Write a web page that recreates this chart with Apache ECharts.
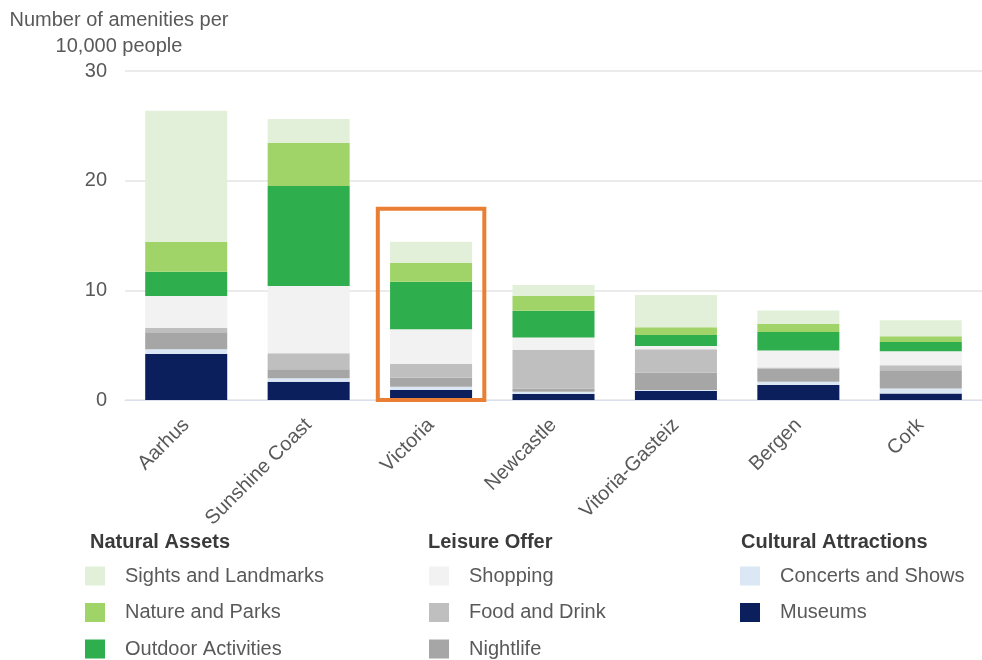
<!DOCTYPE html>
<html>
<head>
<meta charset="utf-8">
<title>Amenities per 10,000 people</title>
<script src="https://cdn.jsdelivr.net/npm/echarts@6/dist/echarts.min.js"></script>
<style>
  html, body { margin: 0; padding: 0; background: #ffffff; }
  #chart { width: 982px; height: 660px; }
</style>
</head>
<body>
<div id="chart"></div>
<script>
// Cities, left to right
const cities = ['Aarhus', 'Sunshine Coast', 'Victoria', 'Newcastle', 'Vitoria-Gasteiz', 'Bergen', 'Cork'];

// Amenities per 10,000 people, by type
const museums   = [4.19, 1.67, 0.91, 0.55, 0.82, 1.37, 0.60];
const concerts  = [0.43, 0.31, 0.30, 0.20, 0.10, 0.30, 0.45];
const nightlife = [1.55, 0.82, 0.82, 0.30, 1.58, 1.20, 1.67];
const foodDrink = [0.39, 1.46, 1.25, 3.50, 2.13, 0.10, 0.45];
const shopping  = [2.92, 6.13, 3.16, 1.16, 0.30, 1.55, 1.28];
const outdoor   = [2.22, 9.12, 4.34, 2.43, 1.00, 1.67, 0.85];
const nature    = [2.73, 3.95, 1.73, 1.37, 0.70, 0.73, 0.52];
const sights    = [11.94, 2.16, 1.91, 0.97, 2.95, 1.24, 1.46];

// Y axis ticks
const yTicks = [0, 10, 20, 30];

// Legend groups
const groupNatural  = ['Sights and Landmarks', 'Nature and Parks', 'Outdoor Activities'];
const groupLeisure  = ['Shopping', 'Food and Drink', 'Nightlife'];
const groupCultural = ['Concerts and Shows', 'Museums'];

// Highlighted city and the top of its frame (in axis units)
const highlightCity = 'Victoria';
const highlightTop = 17.44;

const FONT = "'Liberation Sans', Arial, Helvetica, sans-serif";
const TEXT = '#595959';
const FS = 20;

const colors = {
  'Museums': '#0b1f5c',
  'Concerts and Shows': '#dce7f5',
  'Nightlife': '#a6a6a6',
  'Food and Drink': '#bfbfbf',
  'Shopping': '#f2f2f2',
  'Outdoor Activities': '#2fae4e',
  'Nature and Parks': '#a0d468',
  'Sights and Landmarks': '#e2f0d9'
};

// Stacked from the bottom up
const stackOrder = [
  ['Museums', museums],
  ['Concerts and Shows', concerts],
  ['Nightlife', nightlife],
  ['Food and Drink', foodDrink],
  ['Shopping', shopping],
  ['Outdoor Activities', outdoor],
  ['Nature and Parks', nature],
  ['Sights and Landmarks', sights]
];

const series = stackOrder.map(([name, values]) => ({
  name: name,
  type: 'bar',
  stack: 'total',
  barWidth: '67%',
  itemStyle: { color: colors[name] },
  emphasis: { disabled: true },
  data: values
}));

function legendFor(names, left) {
  return {
    orient: 'vertical',
    left: left,
    top: 566,
    height: 130,
    padding: 0,
    itemWidth: 20,
    itemHeight: 19,
    itemGap: 16.5,
    icon: 'rect',
    selectedMode: false,
    data: names,
    textStyle: { fontFamily: FONT, fontSize: FS, color: TEXT, padding: [0, 0, 0, 15] }
  };
}

const chart = echarts.init(document.getElementById('chart'), null, { renderer: 'canvas' });

const headStyle = { fontFamily: FONT, fontSize: FS, fontWeight: 'bold', color: '#3a3a3a' };

chart.setOption({
  animation: false,
  backgroundColor: '#ffffff',
  textStyle: { fontFamily: FONT },
  title: [
    {
      text: 'Number of amenities per\n10,000 people',
      left: 114,
      top: 2,
      textAlign: 'center',
      textStyle: { fontFamily: FONT, fontSize: FS, fontWeight: 'normal', color: TEXT, lineHeight: 26 }
    },
    { text: 'Natural Assets', left: 85, top: 527, textStyle: headStyle },
    { text: 'Leisure Offer', left: 423, top: 527, textStyle: headStyle },
    { text: 'Cultural Attractions', left: 736, top: 527, textStyle: headStyle }
  ],
  legend: [
    legendFor(groupNatural, 85),
    legendFor(groupLeisure, 429),
    legendFor(groupCultural, 740)
  ],
  grid: { left: 125, right: -9, top: 71, bottom: 260, containLabel: false },
  xAxis: {
    type: 'category',
    data: cities,
    axisLine: { show: true, lineStyle: { color: '#dcdfec', width: 1 } },
    axisTick: { show: false },
    axisLabel: { interval: 0, rotate: 45, margin: 22, fontFamily: FONT, fontSize: FS, color: TEXT }
  },
  yAxis: {
    type: 'value',
    min: yTicks[0],
    max: yTicks[yTicks.length - 1],
    interval: yTicks[1] - yTicks[0],
    axisLine: { show: false },
    axisTick: { show: false },
    splitLine: { lineStyle: { color: '#e4e4e4', width: 1.5 } },
    axisLabel: { margin: 18, fontFamily: FONT, fontSize: FS, color: TEXT }
  },
  series: series
});

// Orange frame around the highlighted city, placed through the axes
function drawFrame() {
  const idx = cities.indexOf(highlightCity);
  const a = chart.convertToPixel({ xAxisIndex: 0, yAxisIndex: 0 }, [idx, 0]);
  const b = chart.convertToPixel({ xAxisIndex: 0, yAxisIndex: 0 }, [idx + 1, highlightTop]);
  const step = b[0] - a[0];
  const half = step * 0.435;
  chart.setOption({
    graphic: [{
      type: 'rect',
      id: 'highlight',
      z: 100,
      shape: { x: a[0] - half, y: b[1], width: half * 2, height: a[1] - b[1] },
      style: { fill: 'none', stroke: '#ea7f34', lineWidth: 4 }
    }]
  });
}
drawFrame();
</script>
</body>
</html>
